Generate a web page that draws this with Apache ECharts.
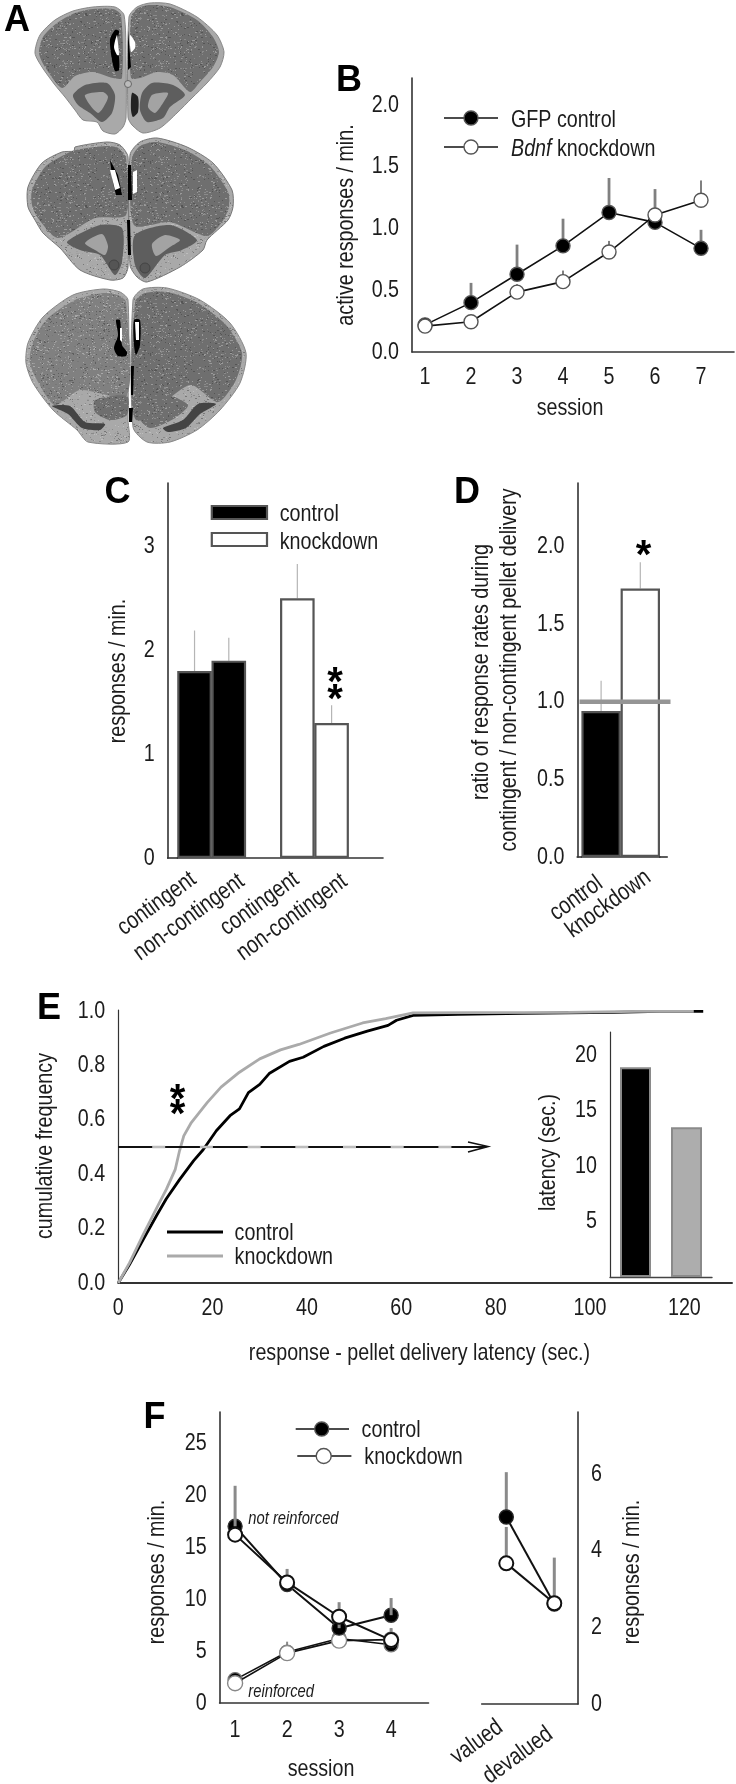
<!DOCTYPE html>
<html><head><meta charset="utf-8">
<style>html,body{margin:0;padding:0;background:#fff}#c{width:736px;height:1784px}</style>
<script src="https://cdn.jsdelivr.net/npm/echarts@6/dist/echarts.min.js"></script>
</head><body><div id="c"></div>
<script>
// ---------- data ----------
const sessionsB = [1,2,3,4,5,6,7];
const controlB = [0.22,0.40,0.63,0.86,1.13,1.05,0.84];
const controlBTop = [0.26,0.56,0.87,1.08,1.41,1.32,0.99];
const knockdownB = [0.21,0.245,0.485,0.57,0.81,1.11,1.23];
const knockdownBTop = [0.24,0.27,0.55,0.66,0.90,1.20,1.39];
const yTicksB = [0,0.5,1,1.5,2];

const categoriesC = ['contingent','non-contingent','','contingent','non-contingent',''];
const controlC = [1.8,1.9,null,null,null,null];
const controlCTop = [2.19,2.12,null,null,null,null];
const knockdownC = [null,null,null,2.5,1.3,null];
const knockdownCTop = [null,null,null,2.83,1.47,null];
const yTicksC = [0,1,2,3];

const categoriesD = ['control','knockdown'];
const controlD = [0.94,null];
const knockdownD = [null,1.73];
const topsD = [1.135,1.90];
const referenceD = 1.0;
const yTicksD = [0,0.5,1,1.5,2];

const controlE = [[0,0],[2.4,0.068],[5.3,0.16],[8.2,0.25],[10.2,0.31],[13,0.38],[16,0.45],[18,0.49],[20.8,0.56],[23.7,0.615],[25.7,0.64],[27.6,0.70],[30,0.73],[32,0.77],[36.3,0.815],[39.2,0.83],[43.6,0.87],[48,0.90],[52.8,0.926],[57.2,0.947],[59,0.966],[62.5,0.984],[72,0.988],[85.8,0.991],[105,0.995],[114.8,0.999],[124,0.999]];
const knockdownE = [[0,0],[2.4,0.074],[5.3,0.178],[8.2,0.277],[10.2,0.344],[12.1,0.418],[13,0.486],[13.9,0.541],[15.5,0.59],[18.9,0.664],[21.8,0.72],[25.7,0.775],[30,0.824],[34.4,0.857],[38.3,0.877],[45,0.919],[51.8,0.956],[56.7,0.972],[62.5,0.993],[76,0.994],[95.4,0.995],[110,0.999],[122,0.999]];
const medianE = [[0,0.5],[78,0.5]];
const xTicksE = [0,20,40,60,80,100,120];
const yTicksE = [0,0.2,0.4,0.6,0.8,1];
const latencyE = [18.9,13.5];
const yTicksInset = [5,10,15,20];

const sessionsF = [1,2,3,4];
const notReinforcedControl = [17.0,11.4,7.2,8.45];
const notReinforcedControlTop = [20.9,12.9,9.7,10.1];
const notReinforcedKnockdown = [16.2,11.6,8.3,6.05];
const notReinforcedKnockdownTop = [16.2,12.0,9.0,7.2];
const reinforcedControl = [2.25,4.9,6.2,5.6];
const reinforcedControlTop = [2.5,5.2,6.8,5.9];
const reinforcedKnockdown = [1.9,4.8,6.0,6.1];
const reinforcedKnockdownTop = [2.1,5.9,6.6,7.2];
const yTicksF = [0,5,10,15,20,25];
const categoriesF2 = ['valued','devalued'];
const controlF2 = [4.88,2.61];
const controlF2Top = [6.05,2.7];
const knockdownF2 = [3.67,2.63];
const knockdownF2Top = [4.62,3.82];
const yTicksF2 = [0,2,4,6];

// ---------- styling helpers ----------
const NARROW = '"Liberation Sans",sans-serif';
const FS = 24, SQUEEZE = 0.82;
const TXT = '#1c1c1c', AXIS = '#333';
const chart = echarts.init(document.getElementById('c'), null, {renderer:'canvas'});

function grid(l,t,r,b){return {left:l,top:t,width:r-l,height:b-t,containLabel:false};}
function lab(o){return Object.assign({color:TXT,fontFamily:NARROW,fontSize:FS,margin:13,hideOverlap:false},o);}
function valAxis(gi,min,max,ticks,fmt,extra){
  return Object.assign({type:'value',gridIndex:gi,min,max,splitLine:{show:false},
    axisTick:{show:false},
    axisLine:{show:true,onZero:false,lineStyle:{color:AXIS,width:1.6}},
    axisLabel:lab({customValues:ticks,formatter:fmt})},extra||{});
}
function catAxis(gi,cats){
  return {type:'category',gridIndex:gi,data:cats,boundaryGap:true,axisTick:{show:false},splitLine:{show:false},
    axisLine:{show:true,onZero:false,lineStyle:{color:AXIS,width:1.6}},
    axisLabel:lab({interval:0,rotate:36,margin:9})};
}
const fix1 = v=>v.toFixed(1), int0 = v=>String(Math.round(v));
function zip(x,y){return y.map((v,i)=>[x[i],v]);}
function errorSeries(gi,xs,lo,hi,color,width,z){
  return {type:'custom',xAxisIndex:gi,yAxisIndex:gi,z:z||2,silent:true,clip:false,
    data:xs.map((x,i)=>[x,lo[i],hi[i]]).filter(d=>d[1]!=null&&d[2]!=null),
    encode:{x:0,y:[1,2]},
    renderItem:(p,api)=>{
      const a=api.coord([api.value(0),api.value(1)]), b=api.coord([api.value(0),api.value(2)]);
      return {type:'line',shape:{x1:a[0],y1:a[1],x2:b[0],y2:b[1]},style:{stroke:color,lineWidth:width,fill:null}};
    }};
}
function markerLine(gi,name,xs,ys,filled,o){
  o=o||{};
  return {type:'line',name,xAxisIndex:gi,yAxisIndex:gi,data:zip(xs,ys),z:o.z||3,
    symbol:'circle',symbolSize:o.size||14,showSymbol:true,smooth:false,clip:false,
    lineStyle:{color:o.line||'#111',width:o.lw||1.6},
    itemStyle:{color:filled?'#000':'#fff',borderColor:o.border||'#555',borderWidth:o.bw||1.4,opacity:1}};
}
function barSeries(gi,name,vals,fill,width,border,bw){
  return {type:'bar',name,xAxisIndex:gi,yAxisIndex:gi,barWidth:width,barGap:'-100%',z:3,
    data:vals.map((v,i)=>v==null?null:[i,v]).filter(Boolean),
    itemStyle:{color:fill,borderColor:border||'#555',borderWidth:bw==null?2.2:bw}};
}

// ---------- graphic helpers (labels, legends, histology panel) ----------
function T(x,y,text,size,o){
  o=o||{};
  return {type:'text',x,y,rotation:o.rot?o.rot*Math.PI/180:0,z:20,silent:true,
    style:{text,fill:o.fill||TXT,font:(o.style||'')+' '+(o.weight||'')+' '+size+'px '+(o.family||NARROW),
      textAlign:o.align||'left',textVerticalAlign:'middle',rich:o.rich}};
}
const V=(x,y,t,s)=>T(x,y,t,s||FS,{rot:90,align:'center'});
function L(x1,y1,x2,y2,c,w){return {type:'line',z:15,silent:true,shape:{x1,y1,x2,y2},style:{stroke:c,lineWidth:w}};}
function C(x,y,r,f,s,w){return {type:'circle',z:16,silent:true,shape:{cx:x,cy:y,r},style:{fill:f,stroke:s,lineWidth:w}};}
function R(x,y,w,h,f,s,lw){return {type:'rect',z:15,silent:true,shape:{x,y,width:w,height:h},style:{fill:f,stroke:s,lineWidth:lw}};}
function star(x,y){return T(x,y+9,'*',40,{align:'center',weight:'bold',fill:'#000'});}
const LETTER = (x,y,t)=>T(x,y,t,36,{weight:'bold',fill:'#000'});

function speckle(base,dots,seed,n){
  const cv=document.createElement('canvas');cv.width=cv.height=96;
  const g=cv.getContext('2d');g.fillStyle=base;g.fillRect(0,0,96,96);
  let s=seed;
  const next=()=>{s=(s*1103515245+12345)&0x7fffffff;return s/0x7fffffff;};
  for(let i=0;i<(n||1300);i++){const x=Math.floor(next()*96),y=Math.floor(next()*96);
    g.fillStyle=dots[Math.floor(next()*dots.length)];g.fillRect(x,y,1+Math.floor(next()*1.4),1);}
  return cv;
}
const texCortex=speckle('#6f6f6f',['#9a9a9a','#555','#8a8a8a','#6f6f6f'],7);
const texLight=speckle('#808080',['#a8a8a8','#5f5f5f','#999','#777'],23);
const texRim=speckle('#a9a9a9',['#8a8a8a','#bdbdbd','#777','#a0a0a0'],41,900);
const P=(pts,fill,o)=>{o=o||{};return {type:'polygon',z:o.z||5,silent:true,shape:{points:pts,smooth:o.smooth==null?0.25:o.smooth},
  style:{fill,stroke:o.stroke||null,lineWidth:o.lw||0}};};
const cx={image:texCortex,repeat:'repeat'}, lx={image:texLight,repeat:'repeat'}, rx={image:texRim,repeat:'repeat'};
const RIM='#a9a9a9', RING='#5e5e5e', CORE='#a3a3a3';

const brainGraphics=[
 // section 1
 P([[124,15],[115,7],[93,7],[73,11],[55,20],[40,35],[35,53],[42,67],[55,85],[65,97],[75,110],[83,120],[97,122],[103,131],[115,134],[123,127],[126,118],[126,60]],RIM,{stroke:'#888',lw:1}),
 P([[129,17],[137,7],[150,3],[170,4],[197,17],[217,35],[224,52],[220,67],[207,83],[192,98],[177,113],[160,128],[143,133],[132,125],[128,117]],RIM,{stroke:'#888',lw:1}),
 P([[121,15],[113,9],[93,9],[75,13],[57,23],[43,37],[39,53],[45,67],[62,88],[75,76],[93,72],[113,78],[122,78]],cx),
 P([[131,17],[138,8],[150,5],[170,7],[197,20],[213,37],[219,52],[213,67],[200,82],[190,92],[173,75],[157,72],[140,78],[131,78]],cx),
 P([[73,95],[85,85],[107,83],[115,95],[112,113],[102,122],[90,113],[78,105]],RING),
 P([[85,95],[103,92],[108,97],[103,108],[98,113],[90,105]],CORE),
 P([[142,93],[152,83],[173,85],[185,95],[170,107],[163,118],[147,122],[140,110]],RING),
 P([[152,95],[168,93],[163,103],[155,113],[148,107]],CORE),
 P([[115,30],[110,40],[112,60],[115,71],[119,70],[119,57],[117,43],[119,31]],'#000'),
 P([[117,35],[114,47],[117,55],[119,55],[118,43]],'#fff'),
 P([[128,30],[131,67],[128,70]],'#000',{smooth:0}),
 P([[130,35],[131,52],[135,48],[135,42]],'#fff'),
 P([[132,93],[138,97],[138,112],[133,117],[131,110]],'#222'),
 C(128,84,3.5,'#bbb','#666',1),
 // section 2
 P([[128,157],[120,145],[107,142],[75,147],[74,151],[62,152],[42,163],[28,187],[28,207],[35,220],[43,233],[60,248],[80,270],[110,280],[123,278],[128,267]],rx,{stroke:'#777',lw:1}),
 P([[130,155],[140,142],[157,138],[187,147],[213,163],[232,190],[233,207],[228,220],[207,240],[203,250],[180,267],[147,282],[137,277],[130,265]],rx,{stroke:'#777',lw:1}),
 P([[126,158],[118,148],[107,146],[76,150],[62,156],[45,167],[32,190],[32,205],[38,218],[58,238],[95,218],[126,215]],cx),
 P([[132,158],[140,146],[157,142],[187,151],[210,166],[228,192],[229,207],[222,222],[207,236],[170,222],[134,225]],cx),
 P([[67,242],[100,225],[122,228],[122,262],[115,275],[100,255],[80,250]],RING),
 P([[197,240],[170,225],[135,235],[135,265],[145,278],[165,255],[182,250]],RING),
 P([[85,243],[102,234],[108,246],[105,255],[95,250]],CORE),
 P([[180,240],[165,235],[152,244],[156,256],[170,247]],CORE),
 P([[110,160],[118,175],[122,195],[116,195],[113,183]],'#000',{smooth:0}),
 P([[110,170],[115,170],[120,188],[115,190]],'#fff',{smooth:0}),
 P([[133,172],[137,170],[137,192],[133,194]],'#fff',{smooth:0}),
 P([[128,165],[131,165],[132,200],[128,200]],'#000',{smooth:0}),
 P([[127,220],[130,220],[131,255],[128,255]],'#000',{smooth:0}),
 C(114,265,5,'#555','#444',1),C(145,268,5,'#555','#444',1),
 // section 3
 P([[128,300],[120,292],[103,289],[73,295],[43,317],[28,343],[26,363],[33,383],[53,410],[77,430],[88,442],[128,442],[128,420]],rx,{stroke:'#888',lw:1}),
 P([[133,300],[143,289],[167,288],[200,300],[230,323],[246,353],[240,383],[220,410],[197,430],[170,442],[147,442],[133,427]],rx,{stroke:'#888',lw:1}),
 P([[126,302],[118,295],[103,293],[75,300],[46,320],[32,345],[30,363],[38,382],[55,405],[80,390],[127,395]],lx),
 P([[135,302],[145,293],[167,292],[198,303],[226,325],[242,353],[236,380],[218,402],[190,385],[136,420]],cx),
 P([[95,400],[127,396],[127,415],[110,420],[95,412]],cx),
 P([[165,395],[138,415],[150,428],[175,418],[188,405]],cx),
 P([[52,406],[70,406],[85,422],[105,424],[100,430],[82,428],[68,414]],'#444'),
 P([[216,404],[198,404],[183,420],[163,428],[168,432],[186,428],[200,414]],'#444'),
 P([[116,320],[120,320],[122,345],[127,352],[126,356],[118,356],[114,348],[118,335]],'#000'),
 P([[120,328],[122,328],[122,342],[120,340]],'#fff',{smooth:0}),
 P([[134,320],[140,320],[140,345],[136,355],[134,345]],'#000'),
 P([[135,322],[139,322],[139,340],[136,340]],'#fff',{smooth:0}),
 P([[131,366],[134,366],[133,395],[131,395]],'#000',{smooth:0}),
 P([[129,408],[133,408],[132,422],[129,422]],'#000',{smooth:0})
];

const labels=[
 LETTER(4,21,'A'),LETTER(336,81,'B'),LETTER(104.6,493,'C'),LETTER(454,493,'D'),LETTER(37,1009,'E'),LETTER(143.5,1418,'F'),
 // B
 V(346,225,'active responses / min.'),
 T(570,408,'session',FS,{align:'center'}),
 L(444,118,498,118,'#111',1.6),C(471,118,7,'#000','#555',1.4),
 T(511,120,'GFP control',FS),
 L(444,147,498,147,'#111',1.6),C(471,147,7,'#fff','#555',1.4),
 T(511,149,'{i|Bdnf} knockdown',FS,{rich:{i:{font:'italic '+FS+'px '+NARROW,fill:TXT}}}),
 // C
 V(118.7,671,'responses / min.'),
 L(167,858,178,858,AXIS,1.6),
 R(211.8,506,55.2,13,'#000','#555',2.2),T(279.7,514,'control',FS),
 R(211.8,533,55.2,13,'#fff','#555',2.2),T(279.7,542,'knockdown',FS),
 star(335,675),star(335,692),
 // D
 V(481,672,'ratio of response rates during'),
 V(509.5,670,'contingent / non-contingent pellet delivery'),
 L(576.6,857,582,857,AXIS,1.6),L(659,857,667.8,857,AXIS,1.6),
 star(643.6,548),
 // E
 V(45,1146,'cumulative frequency'),
 T(419.5,1353,'response - pellet delivery latency (sec.)',FS,{align:'center'}),
 L(167,1232,223,1232,'#000',3),T(234.6,1233,'control',FS),
 L(167,1256,223,1256,'#aaa',3),T(234.6,1257,'knockdown',FS),
 star(177.5,1092),star(177.5,1107),
 V(548,1152.5,'latency (sec.)'),
 {type:'polyline',z:15,silent:true,shape:{points:[[468,1142],[488,1146.5],[468,1152]]},style:{stroke:'#111',lineWidth:1.6,fill:null}},
 // F
 V(157.7,1572,'responses / min.'),
 V(632.7,1572,'responses / min.'),
 T(321,1769,'session',FS,{align:'center'}),
 L(295.7,1429,349,1429,'#111',1.6),C(321.7,1429,7,'#000','#555',1.4),T(361.6,1430,'control',FS),
 L(297.3,1456,351.4,1456,'#111',1.6),C(323.7,1456,7.5,'#fff','#555',1.4),T(364.3,1457,'knockdown',FS),
 T(248.3,1519,'not reinforced',18,{style:'italic'}),
 T(248.3,1692,'reinforced',18,{style:'italic'})
];

// ---------- axes fitted to the panel rectangles ----------
const option={
 animation:false,backgroundColor:'#fff',
 grid:[grid(412,78,734,352),grid(177.4,483,383,858),grid(581.5,483,659.9,857),grid(118.2,1010,732,1283),
       grid(610,1032,712,1277),grid(219.6,1412,428.5,1703),grid(481.7,1412,578,1704)],
 xAxis:[
  valAxis(0,0.717,7.717,sessionsB,int0),
  catAxis(1,categoriesC),
  catAxis(2,categoriesD),
  valAxis(3,0,130.1,xTicksE,int0,{axisLine:{show:true,onZero:false,lineStyle:{color:AXIS,width:2}}}),
  valAxis(4,-0.5,1.5,[],int0,{axisLine:{show:true,onZero:false,lineStyle:{color:'#444',width:1.4}},axisLabel:{show:false}}),
  valAxis(5,0.702,4.719,sessionsF,int0,{axisLabel:lab({customValues:sessionsF,formatter:int0,margin:15})}),
  Object.assign(catAxis(6,categoriesF2),{boundaryGap:[0,0]}) && valAxis(6,-0.5125,1.494,[],int0,{axisLabel:{show:false}})
 ],
 yAxis:[
  valAxis(0,0,2.22,yTicksB,fix1),
  valAxis(1,0,3.61,yTicksC,int0,{offset:9.6}),
  valAxis(2,0,2.41,yTicksD,fix1,{offset:4.1}),
  valAxis(3,0,1.0037,yTicksE,fix1,{axisLine:{show:true,onZero:false,lineStyle:{color:AXIS,width:1.2}}}),
  valAxis(4,0,22.07,yTicksInset,int0,{axisLine:{show:true,onZero:false,lineStyle:{color:'#333',width:1.2}}}),
  valAxis(5,0,28,yTicksF,int0),
  valAxis(6,0,7.62,yTicksF2,int0,{position:'right'})
 ],
 series:[
  // B
  errorSeries(0,sessionsB,controlB,controlBTop,'#808080',2.8),
  errorSeries(0,sessionsB,knockdownB,knockdownBTop,'#808080',2),
  markerLine(0,'GFP control',sessionsB,controlB,true,{z:3}),
  markerLine(0,'Bdnf knockdown',sessionsB,knockdownB,false,{z:4}),
  // C
  errorSeries(1,categoriesC.map((c,i)=>i),controlC,controlCTop,'#b5b5b5',1.2),
  errorSeries(1,categoriesC.map((c,i)=>i),knockdownC,knockdownCTop,'#b5b5b5',1.2),
  barSeries(1,'control',controlC,'#000',34.6),
  barSeries(1,'knockdown',knockdownC,'#fff',34.6),
  // D
  errorSeries(2,[0,1],[controlD[0],knockdownD[1]],topsD,'#b5b5b5',1.2),
  barSeries(2,'control',controlD,'#000',39.4),
  barSeries(2,'knockdown',knockdownD,'#fff',39.4),
  {type:'custom',xAxisIndex:2,yAxisIndex:2,z:5,silent:true,clip:false,data:[[0,referenceD]],encode:{x:0,y:1},
   renderItem:(p,api)=>{const y=api.coord([0,api.value(1)])[1],c=p.coordSys;
     return {type:'line',shape:{x1:c.x-2,y1:y,x2:c.x+c.width+10.6,y2:y},style:{stroke:'#959595',lineWidth:4.5,fill:null}};}},
  // E
  {type:'line',name:'control',xAxisIndex:3,yAxisIndex:3,z:3,symbol:'none',data:controlE,lineStyle:{color:'#000',width:2.8}},
  {type:'line',name:'knockdown',xAxisIndex:3,yAxisIndex:3,z:4,symbol:'none',data:knockdownE,lineStyle:{color:'#aaa',width:2.8}},
  {type:'line',xAxisIndex:3,yAxisIndex:3,z:5,symbol:'none',data:medianE,lineStyle:{color:'#111',width:1.8}},
  {type:'line',xAxisIndex:3,yAxisIndex:3,z:6,symbol:'none',data:medianE,lineStyle:{color:'#bdbdbd',width:2.4,type:[13,34.7],dashOffset:13.7}},
  // E inset
  {type:'bar',xAxisIndex:4,yAxisIndex:4,barWidth:31,barGap:'-100%',z:3,data:[[0,latencyE[0]]],itemStyle:{color:'#000',borderColor:'#8a8a8a',borderWidth:2}},
  {type:'bar',xAxisIndex:4,yAxisIndex:4,barWidth:31,barGap:'-100%',z:3,data:[[1,latencyE[1]]],itemStyle:{color:'#adadad',borderColor:'#8a8a8a',borderWidth:2}},
  // F left
  errorSeries(5,sessionsF,notReinforcedControl,notReinforcedControlTop,'#8a8a8a',3,6),
  errorSeries(5,sessionsF,notReinforcedKnockdown,notReinforcedKnockdownTop,'#8a8a8a',3,2),
  errorSeries(5,sessionsF,reinforcedControl,reinforcedControlTop,'#8a8a8a',2,2),
  errorSeries(5,sessionsF,reinforcedKnockdown,reinforcedKnockdownTop,'#8a8a8a',2,2),
  markerLine(5,'reinforced control',sessionsF,reinforcedControl,true,{z:3,lw:1.6,border:'#777'}),
  markerLine(5,'reinforced knockdown',sessionsF,reinforcedKnockdown,false,{z:4,lw:1.6,border:'#888',size:15}),
  markerLine(5,'not reinforced control',sessionsF,notReinforcedControl,true,{z:5,lw:2,border:'#333'}),
  markerLine(5,'not reinforced knockdown',sessionsF,notReinforcedKnockdown,false,{z:7,lw:2,border:'#111',bw:2,size:14}),
  // F right
  errorSeries(6,[0,1],controlF2,controlF2Top,'#8a8a8a',3),
  errorSeries(6,[0,1],knockdownF2,knockdownF2Top,'#8a8a8a',3),
  markerLine(6,'control valued',[0,1],controlF2,true,{z:3,lw:2,border:'#222',size:14}),
  markerLine(6,'knockdown valued',[0,1],knockdownF2,false,{z:4,lw:2,border:'#111',bw:2,size:14})
 ],
 graphic:{elements:brainGraphics.concat(labels)}
};
chart.setOption(option);
const fRight = categoriesF2.map((c,i)=>{
  const p = chart.convertToPixel({xAxisIndex:6,yAxisIndex:6},[i,0]);
  return T(p[0],p[1]+9,c,FS,{rot:36,align:'right'});
});
chart.setOption({graphic:{elements:fRight.map((e,i)=>Object.assign(e,{id:'f'+i}))}});

// The reference face is a condensed sans; no condensed font is installed, so squeeze the regular one horizontally.
// Slanted category labels also sit slightly off their ticks in the reference.
const SLANT_SHIFT = {'contingent':[-1,10],'non-contingent':[13,12],'control':[-1,15],'knockdown':[8,9],'valued':[-6,12],'devalued':[-4,19]};
const zr = chart.getZr();
zr.storage.traverse(el=>{
  if(el.type==='text' && el.style && !(el.style.font||'').includes('bold') && el.style.fontWeight!=='bold'){
    el.scaleX = SQUEEZE;
    const s = SLANT_SHIFT[el.style.text];
    if(s && el.rotation && Math.abs(el.rotation)<1.2){ el.x+=s[0]; el.y+=s[1]; }
    el.markRedraw();
  }
});
zr.refreshImmediately();
</script></body></html>
